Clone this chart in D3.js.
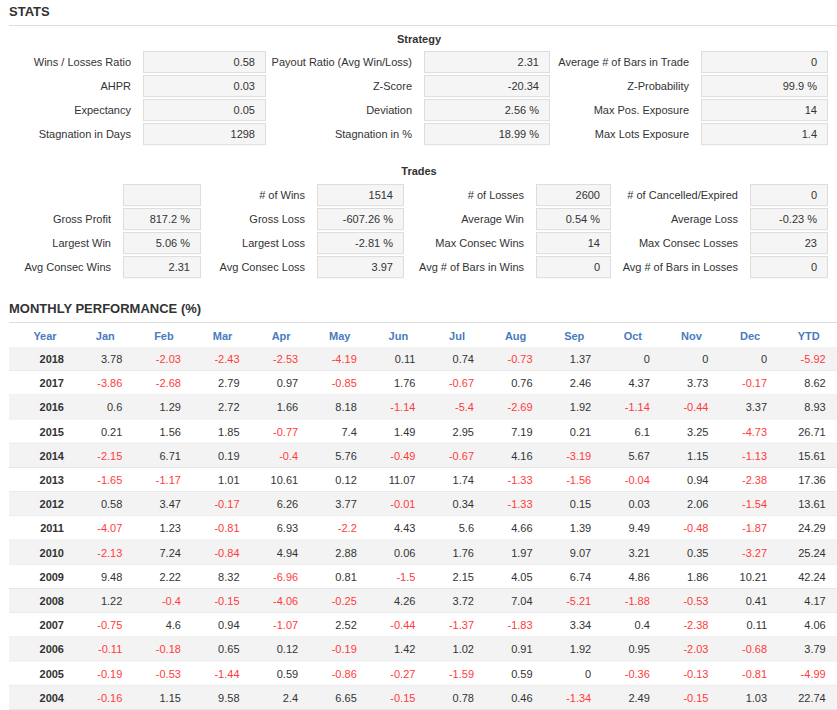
<!DOCTYPE html>
<html><head><meta charset="utf-8">
<script src="https://cdn.jsdelivr.net/npm/d3@7"></script>
<style>
body{margin:0;background:#fff;font-family:"Liberation Sans",Arial,sans-serif;}
text{font-family:"Liberation Sans",Arial,sans-serif;}
</style></head><body>
<svg id="chart" width="837" height="710"></svg>
<script>
// Strategy block: label / value columns
var strategyLabels = [
  ["Wins / Losses Ratio", "AHPR", "Expectancy", "Stagnation in Days"],
  ["Payout Ratio (Avg Win/Loss)", "Z-Score", "Deviation", "Stagnation in %"],
  ["Average # of Bars in Trade", "Z-Probability", "Max Pos. Exposure", "Max Lots Exposure"]
];
var strategyValues = [
  ["0.58", "0.03", "0.05", "1298"],
  ["2.31", "-20.34", "2.56 %", "18.99 %"],
  ["0", "99.9 %", "14", "1.4"]
];
// Trades block
var tradeLabels = [
  ["", "Gross Profit", "Largest Win", "Avg Consec Wins"],
  ["# of Wins", "Gross Loss", "Largest Loss", "Avg Consec Loss"],
  ["# of Losses", "Average Win", "Max Consec Wins", "Avg # of Bars in Wins"],
  ["# of Cancelled/Expired", "Average Loss", "Max Consec Losses", "Avg # of Bars in Losses"]
];
var tradeValues = [
  ["", "817.2 %", "5.06 %", "2.31"],
  ["1514", "-607.26 %", "-2.81 %", "3.97"],
  ["2600", "0.54 %", "14", "0"],
  ["0", "-0.23 %", "23", "0"]
];
// Monthly performance
var months = ["Jan","Feb","Mar","Apr","May","Jun","Jul","Aug","Sep","Oct","Nov","Dec","YTD"];
var years = [2018,2017,2016,2015,2014,2013,2012,2011,2010,2009,2008,2007,2006,2005,2004];
var monthly = [
  [3.78,-2.03,-2.43,-2.53,-4.19,0.11,0.74,-0.73,1.37,0,0,0,-5.92],
  [-3.86,-2.68,2.79,0.97,-0.85,1.76,-0.67,0.76,2.46,4.37,3.73,-0.17,8.62],
  [0.6,1.29,2.72,1.66,8.18,-1.14,-5.4,-2.69,1.92,-1.14,-0.44,3.37,8.93],
  [0.21,1.56,1.85,-0.77,7.4,1.49,2.95,7.19,0.21,6.1,3.25,-4.73,26.71],
  [-2.15,6.71,0.19,-0.4,5.76,-0.49,-0.67,4.16,-3.19,5.67,1.15,-1.13,15.61],
  [-1.65,-1.17,1.01,10.61,0.12,11.07,1.74,-1.33,-1.56,-0.04,0.94,-2.38,17.36],
  [0.58,3.47,-0.17,6.26,3.77,-0.01,0.34,-1.33,0.15,0.03,2.06,-1.54,13.61],
  [-4.07,1.23,-0.81,6.93,-2.2,4.43,5.6,4.66,1.39,9.49,-0.48,-1.87,24.29],
  [-2.13,7.24,-0.84,4.94,2.88,0.06,1.76,1.97,9.07,3.21,0.35,-3.27,25.24],
  [9.48,2.22,8.32,-6.96,0.81,-1.5,2.15,4.05,6.74,4.86,1.86,10.21,42.24],
  [1.22,-0.4,-0.15,-4.06,-0.25,4.26,3.72,7.04,-5.21,-1.88,-0.53,0.41,4.17],
  [-0.75,4.6,0.94,-1.07,2.52,-0.44,-1.37,-1.83,3.34,0.4,-2.38,0.11,4.06],
  [-0.11,-0.18,0.65,0.12,-0.19,1.42,1.02,0.91,1.92,0.95,-2.03,-0.68,3.79],
  [-0.19,-0.53,-1.44,0.59,-0.86,-0.27,-1.59,0.59,0,-0.36,-0.13,-0.81,-4.99],
  [-0.16,1.15,9.58,2.4,6.65,-0.15,0.78,0.46,-1.34,2.49,-0.15,1.03,22.74]
];

var svg = d3.select("#chart");
var dark = "#333", red = "#ff3b3b", blue = "#4a7bbf";
var fs = 11;

function heading(txt, y) {
  svg.append("text").attr("x", 9).attr("y", y).attr("font-size", 13).attr("font-weight", "bold")
    .attr("fill", dark).text(txt);
  svg.append("line").attr("x1", 9).attr("x2", 837).attr("y1", y + 9.5).attr("y2", y + 9.5)
    .attr("stroke", "#ddd").attr("stroke-width", 1);
}
heading("STATS", 16);
heading("MONTHLY PERFORMANCE (%)", 313);

// draws a label+box grid; boxes: [x0,x1] for each column
function statGrid(title, titleY, labels, values, boxes, y0) {
  svg.append("text").attr("x", 419).attr("y", titleY).attr("text-anchor", "middle")
    .attr("font-size", fs).attr("font-weight", "bold").attr("fill", dark).text(title);
  var y = d3.scaleBand().domain(d3.range(4)).range([y0, y0 + 4 * 23.3]).paddingInner(0.12);
  labels.forEach(function (col, c) {
    var b = boxes[c];
    var g = svg.append("g");
    g.selectAll("rect").data(col).enter().append("rect")
      .attr("x", b[0] + 0.5).attr("width", b[1] - b[0]).attr("y", function (d, i) { return y(i) + 0.5; })
      .attr("height", y.bandwidth()).attr("fill", "#f5f5f5").attr("stroke", "#ddd");
    g.selectAll("text.l").data(col).enter().append("text").attr("class", "l")
      .attr("x", b[0] - 12).attr("y", function (d, i) { return y(i) + y.bandwidth() / 2 + 4; })
      .attr("text-anchor", "end").attr("font-size", fs).attr("fill", dark).text(function (d) { return d; });
    g.selectAll("text.v").data(values[c]).enter().append("text").attr("class", "v")
      .attr("x", b[1] - 10).attr("y", function (d, i) { return y(i) + y.bandwidth() / 2 + 4; })
      .attr("text-anchor", "end").attr("font-size", fs).attr("fill", dark).text(function (d) { return d; });
  });
}
statGrid("Strategy", 43, strategyLabels, strategyValues, [[143, 265], [424, 549], [701, 827]], 51);
statGrid("Trades", 175, tradeLabels, tradeValues, [[123, 200], [317, 403], [536, 610], [750, 827]], 184);

// Monthly table
var x = d3.scaleBand().domain(months).range([76, 838]);
var hy = 340;
svg.append("text").attr("x", 45).attr("y", hy).attr("text-anchor", "middle").attr("font-size", fs)
  .attr("font-weight", "bold").attr("fill", blue).text("Year");
svg.selectAll("text.mh").data(months).enter().append("text").attr("class", "mh")
  .attr("x", function (d) { return x(d) + x.bandwidth() / 2; }).attr("y", hy)
  .attr("text-anchor", "middle").attr("font-size", fs).attr("font-weight", "bold").attr("fill", blue)
  .text(function (d) { return d; });

var rowY = d3.scaleBand().domain(years).range([347, 347 + 15 * 24.2]);
var rows = svg.selectAll("g.row").data(years).enter().append("g").attr("class", "row")
  .attr("transform", function (d) { return "translate(0," + rowY(d) + ")"; });
rows.append("rect").attr("x", 9).attr("width", 828).attr("height", rowY.bandwidth() - 1)
  .attr("fill", function (d, i) { return i % 2 === 0 ? "#f3f3f3" : "#fff"; });
rows.append("line").attr("x1", 9).attr("x2", 837).attr("y1", rowY.bandwidth() - 0.5).attr("y2", rowY.bandwidth() - 0.5)
  .attr("stroke", "#e6e6e6");
rows.append("text").attr("x", 64).attr("y", rowY.bandwidth() / 2 + 4).attr("text-anchor", "end")
  .attr("font-size", fs).attr("font-weight", "bold").attr("fill", dark).text(function (d) { return d; });
rows.each(function (yv, i) {
  d3.select(this).selectAll("text.c").data(monthly[i]).enter().append("text").attr("class", "c")
    .attr("x", function (d, j) { return x(months[j]) + x.bandwidth() / 2 + 17; })
    .attr("y", rowY.bandwidth() / 2 + 4).attr("text-anchor", "end").attr("font-size", fs)
    .attr("fill", function (d) { return d < 0 ? red : dark; }).text(function (d) { return d; });
});
</script></body></html>
